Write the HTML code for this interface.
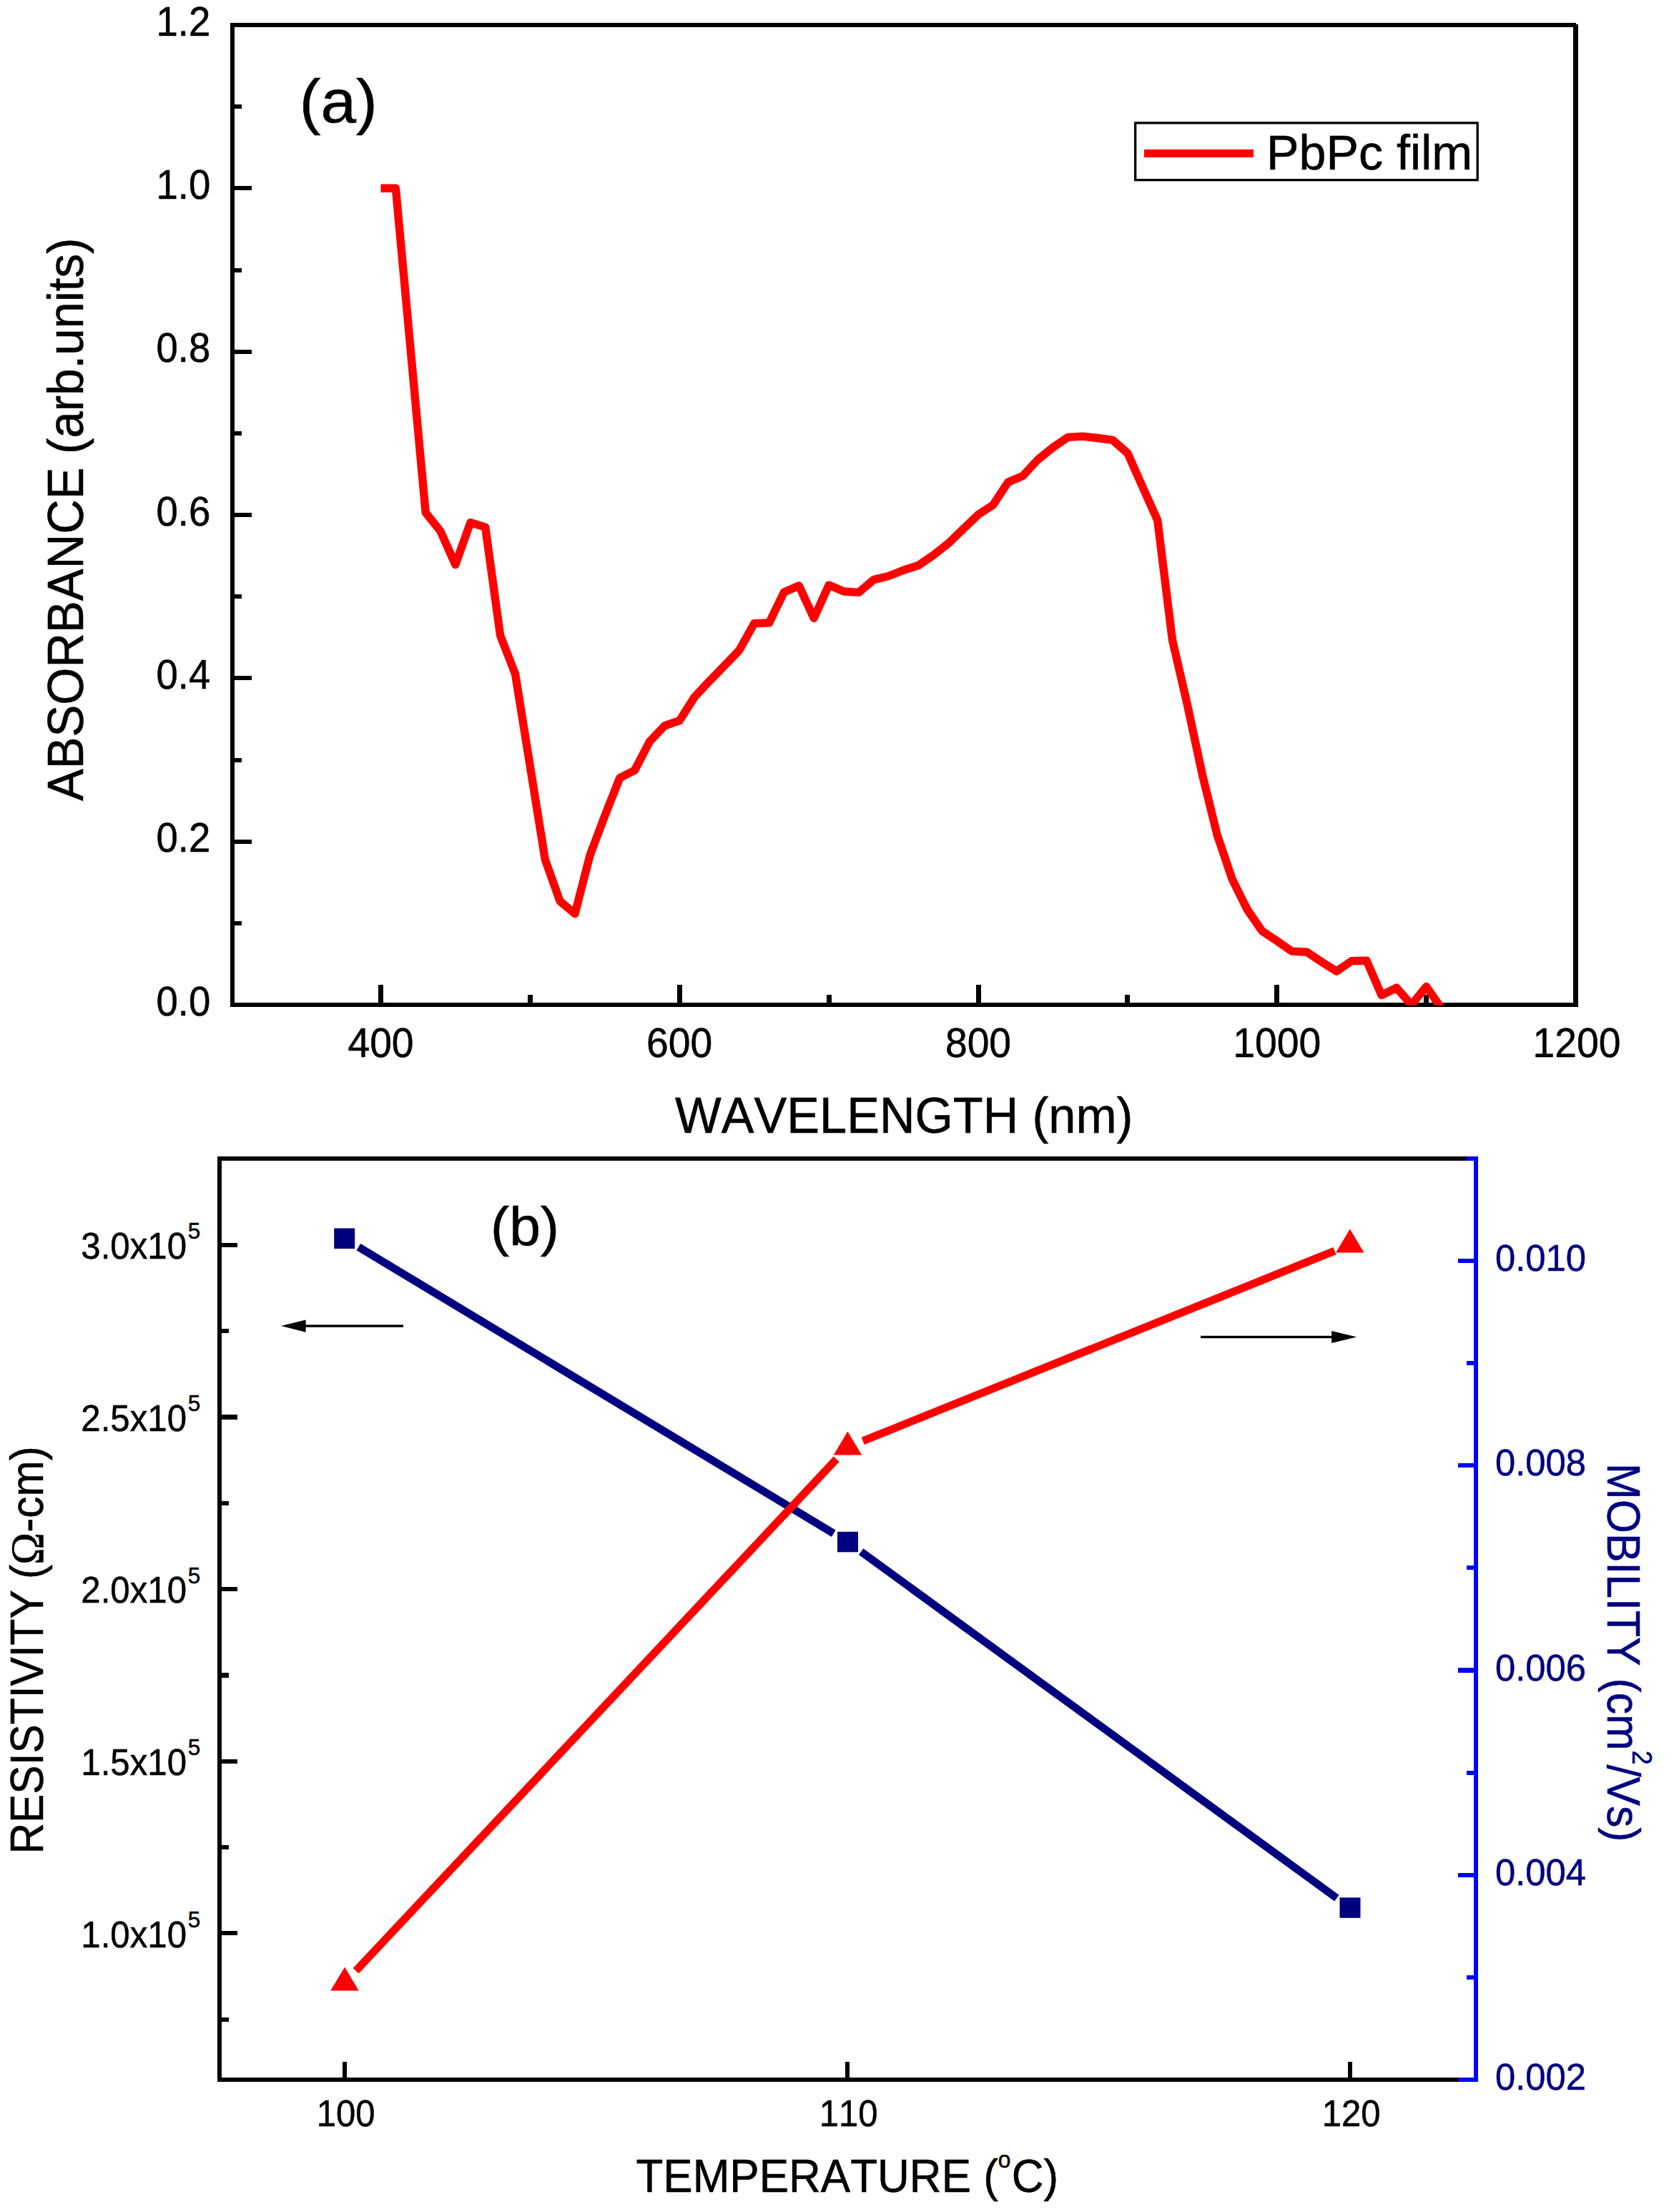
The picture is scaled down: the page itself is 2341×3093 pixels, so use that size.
<!DOCTYPE html>
<html lang="en"><head><meta charset="utf-8"><title>PbPc film absorbance, resistivity and mobility</title>
<style>html,body{margin:0;padding:0;background:#fff}svg{display:block}text{font-family:"Liberation Sans",sans-serif;stroke-width:.55px;font-kerning:none;font-variant-ligatures:none}</style></head><body>
<svg width="2341" height="3093" viewBox="0 0 2341 3093">
<rect width="2341" height="3093" fill="#fff"/>
<g id="panelA">
<defs><clipPath id="clipA"><rect x="324.5" y="35" width="1879" height="1370.6"/></clipPath></defs>
<g fill="#000" shape-rendering="crispEdges">
<rect x="324" y="1402.0" width="28.0" height="6"/>
<rect x="324" y="1287.8" width="14.0" height="6"/>
<rect x="324" y="1173.7" width="28.0" height="6"/>
<rect x="324" y="1059.5" width="14.0" height="6"/>
<rect x="324" y="945.3" width="28.0" height="6"/>
<rect x="324" y="831.1" width="14.0" height="6"/>
<rect x="324" y="717.0" width="28.0" height="6"/>
<rect x="324" y="602.8" width="14.0" height="6"/>
<rect x="324" y="488.6" width="28.0" height="6"/>
<rect x="324" y="374.5" width="14.0" height="6"/>
<rect x="324" y="260.3" width="28.0" height="6"/>
<rect x="324" y="146.1" width="14.0" height="6"/>
<rect x="324" y="32.0" width="28.0" height="6"/>
<rect x="529.0" y="1377" width="7" height="28"/>
<rect x="737.9" y="1391" width="7" height="14"/>
<rect x="946.8" y="1377" width="7" height="28"/>
<rect x="1155.6" y="1391" width="7" height="14"/>
<rect x="1364.5" y="1377" width="7" height="28"/>
<rect x="1573.4" y="1391" width="7" height="14"/>
<rect x="1782.2" y="1377" width="7" height="28"/>
<rect x="1991.1" y="1391" width="7" height="14"/>
<rect x="321.5" y="1402" width="1885.5" height="6"/>
</g>
<polyline clip-path="url(#clipA)" points="532.5,263.3 553.4,263.3 595.2,716.8 616.0,742.8 636.9,789.6 657.8,730.8 678.7,737.1 699.6,888.5 720.5,942.2 762.3,1201.8 783.1,1260.1 804.0,1277.7 824.9,1196.3 845.8,1140.7 866.7,1087.8 887.6,1077.0 908.5,1036.9 929.4,1014.9 950.2,1007.7 971.1,974.9 992.0,952.4 1012.9,931.0 1033.8,909.2 1054.7,871.8 1075.6,870.9 1096.5,827.9 1117.3,819.0 1138.2,864.3 1159.1,818.1 1180.0,827.0 1200.9,828.4 1221.8,810.6 1242.7,805.5 1263.6,797.2 1284.5,790.5 1305.3,776.3 1326.2,759.8 1347.1,739.7 1368.0,719.6 1388.9,705.9 1409.8,674.2 1430.7,665.2 1451.6,642.5 1472.4,625.7 1493.3,611.4 1514.2,610.1 1535.1,612.5 1556.0,615.4 1576.9,633.6 1597.8,680.7 1618.7,727.3 1639.5,895.0 1660.4,985.3 1681.3,1082.8 1702.2,1167.6 1723.1,1229.2 1744.0,1271.4 1764.9,1301.8 1785.8,1315.7 1806.6,1330.1 1827.5,1331.2 1848.4,1345.1 1869.3,1358.2 1890.2,1343.6 1911.1,1343.2 1932.0,1391.6 1952.9,1381.1 1973.7,1405.0 1994.6,1379.5 2015.5,1409.6" fill="none" stroke="#ff0000" stroke-width="11.4" stroke-linejoin="round" stroke-linecap="butt"/>
<g fill="#000" shape-rendering="crispEdges">
<rect x="321.5" y="32" width="6" height="1376"/>
<rect x="2200" y="34" width="7" height="1374"/>
<rect x="321.5" y="32" width="1882.5" height="6"/>
</g>
<text transform="translate(294.3,1419.7) scale(0.9595,1)" font-size="56.8" text-anchor="end" stroke="#000">0.0</text>
<text transform="translate(294.3,1191.4) scale(0.9595,1)" font-size="56.8" text-anchor="end" stroke="#000">0.2</text>
<text transform="translate(294.3,963.0) scale(0.9595,1)" font-size="56.8" text-anchor="end" stroke="#000">0.4</text>
<text transform="translate(294.3,734.7) scale(0.9595,1)" font-size="56.8" text-anchor="end" stroke="#000">0.6</text>
<text transform="translate(294.3,506.3) scale(0.9595,1)" font-size="56.8" text-anchor="end" stroke="#000">0.8</text>
<text transform="translate(294.3,278.0) scale(0.9595,1)" font-size="56.8" text-anchor="end" stroke="#000">1.0</text>
<text transform="translate(294.3,49.7) scale(0.9595,1)" font-size="56.8" text-anchor="end" stroke="#000">1.2</text>
<text transform="translate(532.5,1477.9) scale(0.9730,1)" font-size="56.8" text-anchor="middle" stroke="#000">400</text>
<text transform="translate(950.2,1477.9) scale(0.9730,1)" font-size="56.8" text-anchor="middle" stroke="#000">600</text>
<text transform="translate(1368.0,1477.9) scale(0.9730,1)" font-size="56.8" text-anchor="middle" stroke="#000">800</text>
<text transform="translate(1785.8,1477.9) scale(0.9730,1)" font-size="56.8" text-anchor="middle" stroke="#000">1000</text>
<text transform="translate(2205.0,1477.9) scale(0.9730,1)" font-size="56.8" text-anchor="middle" stroke="#000">1200</text>
<text transform="translate(418.8,171.2) scale(1.0490,1)" font-size="85" stroke="#000">(a)</text>
<text transform="translate(115.9,1120.0) rotate(-90) scale(0.9459,1)" font-size="71" stroke="#000">ABSORBANCE (arb.units)</text>
<text transform="translate(1264.2,1584.1) scale(0.9774,1)" font-size="70.2" text-anchor="middle" stroke="#000">WAVELENGTH (nm)</text>
<rect x="1587.7" y="171.9" width="478.5" height="79.8" fill="#fff" stroke="#000" stroke-width="3.3"/>
<rect x="1600" y="209" width="153" height="11" fill="#ff0000"/>
<text transform="translate(1771.0,236.7) scale(0.9948,1)" font-size="68.6" stroke="#000">PbPc film</text>
</g>
<g id="panelB">
<g fill="#000" shape-rendering="crispEdges">
<rect x="304" y="1616.5" width="6.4" height="1294.6"/>
<rect x="304" y="1616.5" width="1760" height="6.4"/>
<rect x="304" y="2904.7" width="1760" height="6.4"/>
<rect x="307" y="2820.5" width="13.0" height="6.2"/>
<rect x="307" y="2700.2" width="25.3" height="6.2"/>
<rect x="307" y="2579.9" width="13.0" height="6.2"/>
<rect x="307" y="2459.6" width="25.3" height="6.2"/>
<rect x="307" y="2339.3" width="13.0" height="6.2"/>
<rect x="307" y="2219.0" width="25.3" height="6.2"/>
<rect x="307" y="2098.7" width="13.0" height="6.2"/>
<rect x="307" y="1978.4" width="25.3" height="6.2"/>
<rect x="307" y="1858.1" width="13.0" height="6.2"/>
<rect x="307" y="1737.8" width="25.3" height="6.2"/>
<rect x="478.8" y="2883.2" width="6.4" height="24"/>
<rect x="1181.8" y="2883.2" width="6.4" height="24"/>
<rect x="1884.8" y="2883.2" width="6.4" height="24"/>
</g>
<g fill="#0000ff" shape-rendering="crispEdges">
<rect x="2061" y="1616.5" width="6.2" height="1294.6"/>
<rect x="2038.5" y="2904.9" width="25.5" height="6.2"/>
<rect x="2051.4" y="2761.8" width="12.6" height="6.2"/>
<rect x="2038.5" y="2618.6" width="25.5" height="6.2"/>
<rect x="2051.4" y="2475.5" width="12.6" height="6.2"/>
<rect x="2038.5" y="2332.3" width="25.5" height="6.2"/>
<rect x="2051.4" y="2189.2" width="12.6" height="6.2"/>
<rect x="2038.5" y="2046.1" width="25.5" height="6.2"/>
<rect x="2051.4" y="1902.9" width="12.6" height="6.2"/>
<rect x="2038.5" y="1759.8" width="25.5" height="6.2"/>
<rect x="2051.4" y="1616.6" width="12.6" height="6.2"/>
</g>
<line x1="501.4" y1="1743.6" x2="1165.8" y2="2144.2" stroke="#000080" stroke-width="11"/>
<line x1="1204.1" y1="2169.6" x2="1869.4" y2="2654.1" stroke="#000080" stroke-width="11"/>
<line x1="497.7" y1="2755.7" x2="1169.7" y2="2040.3" stroke="#ff0000" stroke-width="11"/>
<line x1="1206.7" y1="2014.9" x2="1866.5" y2="1749.1" stroke="#ff0000" stroke-width="11"/>
<rect x="467.2" y="1717.5" width="29" height="28.5" fill="#000080"/>
<rect x="1171.0" y="2141.8" width="29" height="28.5" fill="#000080"/>
<rect x="1873.5" y="2653.3" width="29" height="28.5" fill="#000080"/>
<polygon points="482.0,2750.5 462.3,2783.5 501.7,2783.5" fill="#ff0000"/>
<polygon points="1185.4,2001.5 1165.7,2034.5 1205.1,2034.5" fill="#ff0000"/>
<polygon points="1887.8,1718.5 1868.1,1751.5 1907.5,1751.5" fill="#ff0000"/>
<g fill="#000"><rect x="420" y="1852.4" width="144" height="3.4"/><polygon points="393.2,1854.1 427.6,1845.5 427.6,1862.7"/>
<rect x="1679" y="1867.8" width="190" height="3.4"/><polygon points="1897.2,1869.5 1862.2,1861 1862.2,1878"/></g>
<text transform="translate(261.0,2722.6) scale(0.9460,1)" font-size="52" text-anchor="end" stroke="#000">1.0x10</text>
<text transform="translate(262.8,2694.8)" font-size="31.5" stroke="#000">5</text>
<text transform="translate(261.0,2482.0) scale(0.9460,1)" font-size="52" text-anchor="end" stroke="#000">1.5x10</text>
<text transform="translate(262.8,2454.2)" font-size="31.5" stroke="#000">5</text>
<text transform="translate(261.0,2241.4) scale(0.9460,1)" font-size="52" text-anchor="end" stroke="#000">2.0x10</text>
<text transform="translate(262.8,2213.6)" font-size="31.5" stroke="#000">5</text>
<text transform="translate(261.0,2000.8) scale(0.9460,1)" font-size="52" text-anchor="end" stroke="#000">2.5x10</text>
<text transform="translate(262.8,1973.0)" font-size="31.5" stroke="#000">5</text>
<text transform="translate(261.0,1760.2) scale(0.9460,1)" font-size="52" text-anchor="end" stroke="#000">3.0x10</text>
<text transform="translate(262.8,1732.4)" font-size="31.5" stroke="#000">5</text>
<text transform="translate(483.6,2973.1) scale(0.9440,1)" font-size="52" text-anchor="middle" stroke="#000">100</text>
<text transform="translate(1186.6,2973.1) scale(0.9440,1)" font-size="52" text-anchor="middle" stroke="#000">110</text>
<text transform="translate(1889.6,2973.1) scale(0.9440,1)" font-size="52" text-anchor="middle" stroke="#000">120</text>
<text transform="translate(2091.0,2922.2) scale(0.9667,1)" font-size="52.5" fill="#000080" stroke="#000080">0.002</text>
<text transform="translate(2091.0,2635.9) scale(0.9667,1)" font-size="52.5" fill="#000080" stroke="#000080">0.004</text>
<text transform="translate(2091.0,2349.6) scale(0.9667,1)" font-size="52.5" fill="#000080" stroke="#000080">0.006</text>
<text transform="translate(2091.0,2063.4) scale(0.9667,1)" font-size="52.5" fill="#000080" stroke="#000080">0.008</text>
<text transform="translate(2091.0,1777.1) scale(0.9667,1)" font-size="52.5" fill="#000080" stroke="#000080">0.010</text>
<text transform="translate(686.0,1741.2) scale(1.0400,1)" font-size="75.5" stroke="#000">(b)</text>
<text transform="translate(60.1,2592.6) rotate(-90) scale(0.9200,1)" font-size="65.7" stroke="#000">RESISTIVITY</text>
<text transform="translate(60.1,2208.0) rotate(-90) scale(0.9190,1)" font-size="65.7" stroke="#000">(<tspan font-family="Liberation Serif" font-size="66">Ω</tspan>-cm)</text>
<text transform="translate(2248.3,2046.1) rotate(90) scale(0.9275,1)" font-size="65.5" fill="#000080" stroke="#000080">MOBILITY (cm<tspan font-size="38.5" dy="-34.5">2</tspan><tspan dy="34.5">/Vs)</tspan></text>
<text transform="translate(889.5,3065.0) scale(0.9630,1)" font-size="64.4" stroke="#000">TEMPERATURE (<tspan font-size="33" dy="-34.3">o</tspan><tspan dy="34.3" dx="1.2">C)</tspan></text>
</g>
</svg></body></html>
